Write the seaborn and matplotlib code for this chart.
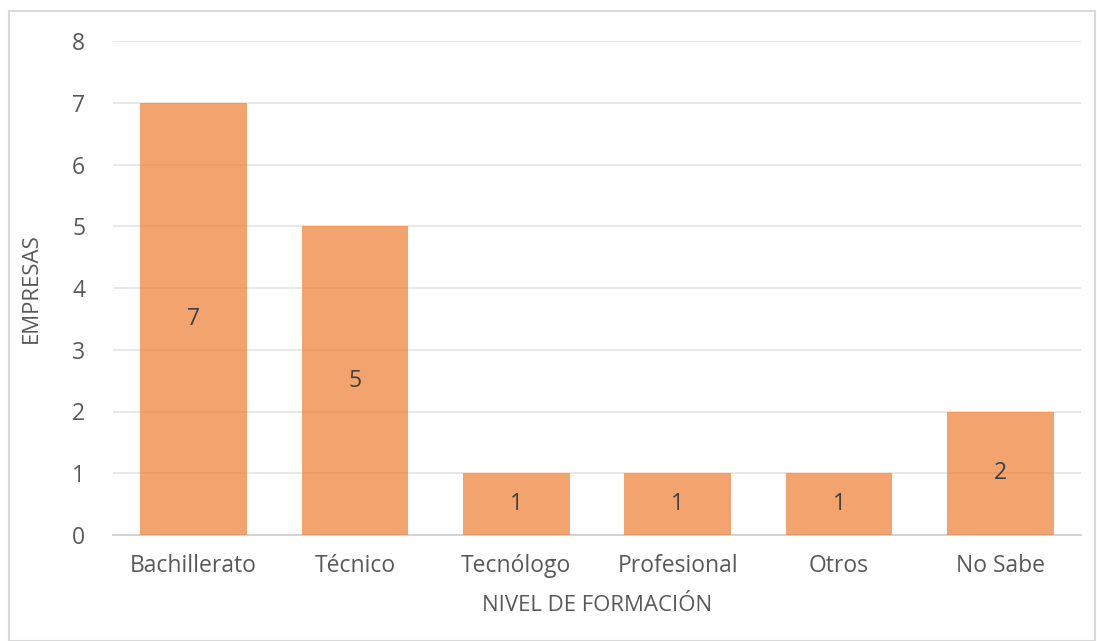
import matplotlib
matplotlib.use("Agg")
import matplotlib.pyplot as plt
import seaborn as sns
import pandas as pd
from matplotlib.patches import Rectangle

categorias = ["Bachillerato", "Técnico", "Tecnólogo", "Profesional", "Otros", "No Sabe"]
empresas = [7, 5, 1, 1, 1, 2]
y_ticks = [0, 1, 2, 3, 4, 5, 6, 7, 8]

sns.set_theme(style="white")
plt.rcParams['font.family'] = ['Open Sans', 'DejaVu Sans']

df = pd.DataFrame({"cat": categorias, "val": empresas})

fig = plt.figure(figsize=(10.97, 6.41), dpi=100)
ax = fig.add_axes([113/1097, 1 - 535/641, (1081-113)/1097, (535-41)/641])

sns.barplot(data=df, x="cat", y="val", color="#ED7D31", alpha=0.7, width=0.66,
            saturation=1, ax=ax, zorder=3)
for p in ax.patches:
    p.set_edgecolor("none")

ax.set_ylim(0, 8)
ax.set_xlim(-0.5, 5.5)
ax.set_yticks(y_ticks)
ax.yaxis.grid(True, color="#E4E4E4", linewidth=1.2, zorder=0)
ax.set_axisbelow(True)
for s in ["top", "right", "left"]:
    ax.spines[s].set_visible(False)
ax.spines["bottom"].set_color("#D0D0D0")
ax.spines["bottom"].set_linewidth(1.3)
ax.tick_params(axis="both", length=0, labelsize=16.5, colors="#595959")
ax.tick_params(axis="x", pad=14)
ax.tick_params(axis="y", pad=20)

for i, v in enumerate(empresas):
    ax.text(i, v / 2, str(v), ha="center", va="center", fontsize=16.5, color="#404040", zorder=5)

ax.set_xlabel("NIVEL DE FORMACIÓN", fontsize=16, color="#595959", labelpad=12)
ax.set_ylabel("EMPRESAS", fontsize=16, color="#595959", labelpad=22)

fig.patches.append(Rectangle((9/1097, 0), (1095-9)/1097, 1 - 11/641, transform=fig.transFigure,
                             fill=False, edgecolor="#D9D9D9", linewidth=1.5))

fig.savefig("out.png", dpi=100)
